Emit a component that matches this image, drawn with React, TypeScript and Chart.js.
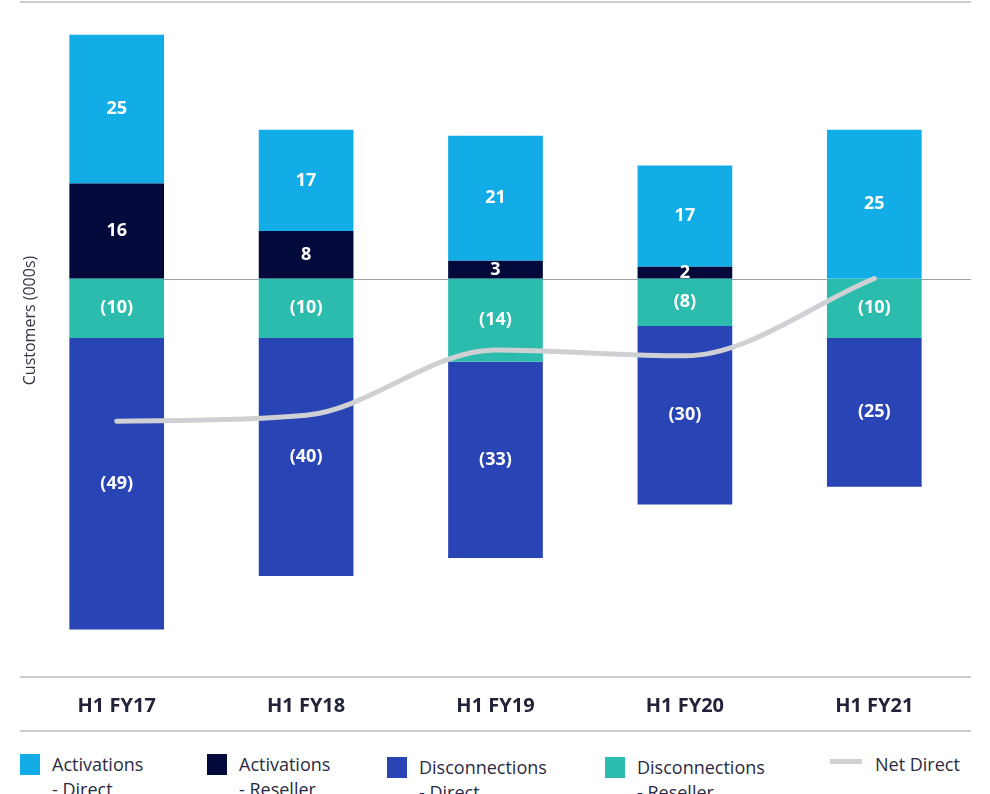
import React, { useEffect, useRef } from "react";
import { Chart, registerables } from "chart.js";

Chart.register(...registerables);

const categories = ["H1 FY17", "H1 FY18", "H1 FY19", "H1 FY20", "H1 FY21"];
const activationsDirect = [25, 17, 21, 17, 25];
const activationsReseller = [16, 8, 3, 2, 0];
const disconnectionsReseller = [-10, -10, -14, -8, -10];
const disconnectionsDirect = [-49, -40, -33, -30, -25];
const netDirect = [-24, -23, -12, -13, 0];

const C_ACT_DIRECT = "#12ace6";
const C_ACT_RESELLER = "#03093b";
const C_DISC_DIRECT = "#2944b4";
const C_DISC_RESELLER = "#2cbcae";
const C_NET = "#cfd0d4";
const FONT = "'Open Sans', sans-serif";
const TEXT = "#22223a";

const fmt = (v: number) => (v < 0 ? `(${Math.abs(v)})` : `${v}`);

const decorPlugin = {
  id: "decor",
  beforeDatasetsDraw(chart: any) {
    const { ctx, chartArea, scales } = chart;
    const y0 = scales.y.getPixelForValue(0);
    const firstMeta = chart.getDatasetMeta(1);
    const el = firstMeta.data[0];
    const xStart = el ? el.x - el.width / 2 : chartArea.left;
    ctx.save();
    ctx.strokeStyle = "#a0a0a8";
    ctx.lineWidth = 1;
    ctx.beginPath();
    ctx.moveTo(xStart, Math.round(y0) + 0.5);
    ctx.lineTo(chartArea.right + 2, Math.round(y0) + 0.5);
    ctx.stroke();
    ctx.restore();
  },
  afterDatasetsDraw(chart: any) {
    const { ctx } = chart;
    ctx.save();
    ctx.fillStyle = "#ffffff";
    ctx.font = `bold 18px ${FONT}`;
    ctx.textAlign = "center";
    ctx.textBaseline = "middle";
    chart.data.datasets.forEach((ds: any, i: number) => {
      if (ds.type === "line") return;
      const meta = chart.getDatasetMeta(i);
      meta.data.forEach((bar: any, j: number) => {
        const v = ds.data[j];
        if (!v) return;
        const cy = (bar.y + bar.base) / 2;
        ctx.fillText(fmt(v), bar.x, cy);
      });
    });
    ctx.restore();
  },
  afterDraw(chart: any) {
    const { ctx, chartArea } = chart;
    ctx.save();
    ctx.strokeStyle = "#cdcdcd";
    ctx.lineWidth = 2;
    const l = chartArea.left - 2;
    const r = chartArea.right + 2;
    [chartArea.top, chartArea.bottom, chartArea.bottom + 54].forEach((y: number) => {
      ctx.beginPath();
      ctx.moveTo(l, y);
      ctx.lineTo(r, y);
      ctx.stroke();
    });
    // axis title
    ctx.fillStyle = "#333340";
    ctx.font = `16px ${FONT}`;
    ctx.textAlign = "center";
    ctx.textBaseline = "middle";
    ctx.translate(30, (chartArea.top + chartArea.bottom) / 2 - 19);
    ctx.rotate(-Math.PI / 2);
    ctx.fillText("Customers (000s)", 0, 0);
    ctx.restore();
  },
};

const legendItems = [
  { left: 20, label: ["Activations", "- Direct"], color: C_ACT_DIRECT, kind: "box", top: 753 },
  { left: 207, label: ["Activations", "- Reseller"], color: C_ACT_RESELLER, kind: "box", top: 753 },
  { left: 387, label: ["Disconnections", "- Direct"], color: C_DISC_DIRECT, kind: "box", top: 756 },
  { left: 605, label: ["Disconnections", "- Reseller"], color: C_DISC_RESELLER, kind: "box", top: 756 },
  { left: 830, label: ["Net Direct"], color: C_NET, kind: "line", top: 753 },
];

export default function App() {
  const ref = useRef<HTMLCanvasElement>(null);
  useEffect(() => {
    if (!ref.current) return;
    const chart = new Chart(ref.current, {
      type: "bar",
      data: {
        labels: categories,
        datasets: [
          {
            type: "line",
            label: "Net Direct",
            data: netDirect,
            borderColor: C_NET,
            backgroundColor: C_NET,
            borderWidth: 5,
            borderCapStyle: "round",
            cubicInterpolationMode: "monotone",
            pointRadius: 0,
            stack: "net",
            order: 0,
          } as any,
          { label: "Activations - Reseller", data: activationsReseller, backgroundColor: C_ACT_RESELLER, stack: "s", order: 1 },
          { label: "Activations - Direct", data: activationsDirect, backgroundColor: C_ACT_DIRECT, stack: "s", order: 1 },
          { label: "Disconnections - Reseller", data: disconnectionsReseller, backgroundColor: C_DISC_RESELLER, stack: "s", order: 1 },
          { label: "Disconnections - Direct", data: disconnectionsDirect, backgroundColor: C_DISC_DIRECT, stack: "s", order: 1 },
        ],
      },
      options: {
        animation: false,
        responsive: false,
        devicePixelRatio: 1,
        layout: { padding: { left: 22, right: 21, top: 2, bottom: 10 } },
        datasets: { bar: { categoryPercentage: 1, barPercentage: 0.5 } },
        plugins: { legend: { display: false }, tooltip: { enabled: false } },
        scales: {
          x: {
            stacked: true,
            grid: { display: false, drawTicks: false },
            border: { display: false },
            ticks: { padding: 17, color: TEXT, font: { family: FONT, size: 20, weight: "bold" } },
          },
          y: {
            stacked: true,
            display: false,
            min: -67,
            max: 46.5,
          },
        },
      },
      plugins: [decorPlugin],
    });
    return () => chart.destroy();
  }, []);

  return (
    <div style={{ position: "absolute", left: 0, top: 0, width: 990, height: 794, overflow: "hidden", background: "#fff", fontFamily: FONT }}>
      <canvas ref={ref} width={990} height={745} style={{ width: 990, height: 745, display: "block" }} />
      {legendItems.map((it) => (
        <div key={it.left} style={{ position: "absolute", left: it.left, top: it.top, display: "flex", alignItems: "flex-start" }}>
          {it.kind === "box" ? (
            <div style={{ width: 20, height: 21, background: it.color, marginTop: 1, flex: "none" }} />
          ) : (
            <div style={{ width: 32, height: 5, background: it.color, marginTop: 6, flex: "none" }} />
          )}
          <div style={{ marginLeft: it.kind === "box" ? 12 : 13, fontSize: 18, lineHeight: "25px", color: "#2a2a44", marginTop: -1 }}>
            {it.label.map((t) => (
              <div key={t}>{t}</div>
            ))}
          </div>
        </div>
      ))}
    </div>
  );
}
